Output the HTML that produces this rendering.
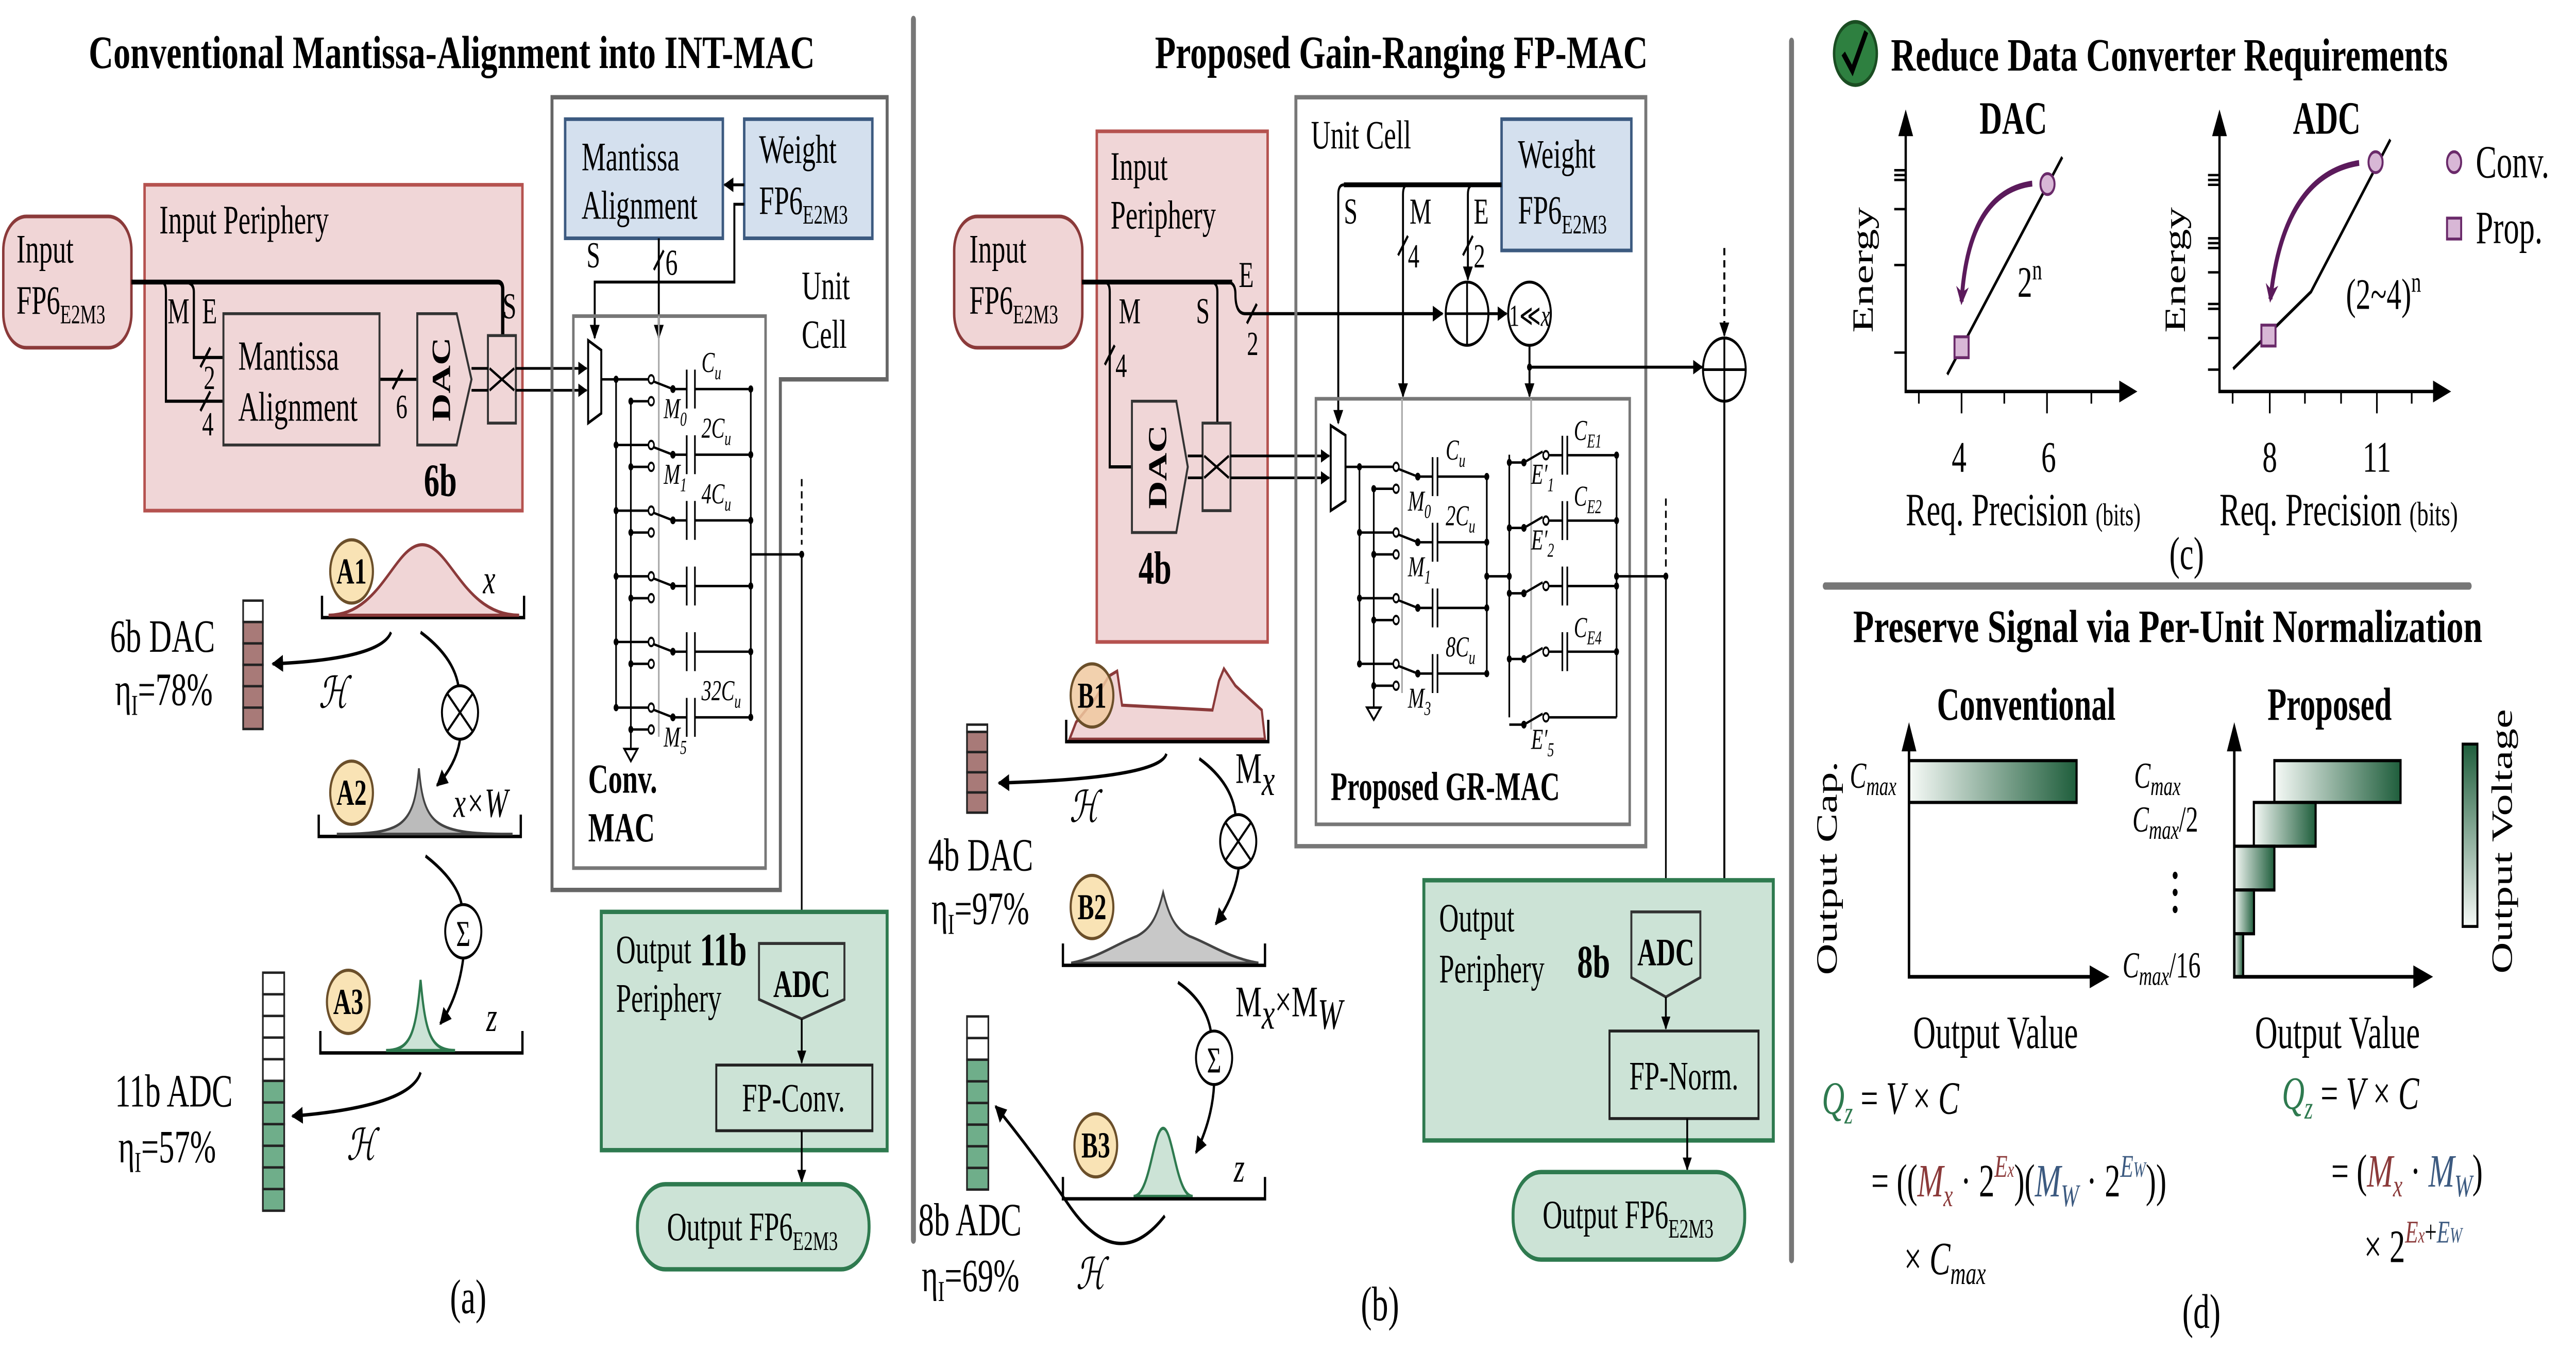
<!DOCTYPE html>
<html><head><meta charset="utf-8"><meta name="viewport" content="width=device-width,initial-scale=1"><style>
html,body{margin:0;padding:0;background:#fff;width:100vw;height:100vh;overflow:hidden;}
svg{display:block;width:100vw;height:100vh;position:absolute;left:0;top:0;}
text{font-family:"Liberation Serif","DejaVu Serif",serif;fill:#000;}
</style></head><body>
<svg xmlns="http://www.w3.org/2000/svg" xmlns:xlink="http://www.w3.org/1999/xlink" viewBox="0 0 1568 556" preserveAspectRatio="none">
<defs>
<marker id="ar" viewBox="0 0 10 10" refX="9" refY="5" markerWidth="5" markerHeight="5" orient="auto-start-reverse"><path d="M0,0 L10,5 L0,10 z" fill="#000"/></marker>
<marker id="ap" viewBox="0 0 10 10" refX="8" refY="5" markerWidth="3.2" markerHeight="3.2" orient="auto"><path d="M0,0 L10,5 L0,10 L3,5 z" fill="#5b1a5b"/></marker>
<linearGradient id="gh" x1="0" x2="1" y1="0" y2="0"><stop offset="0" stop-color="#f6faf7"/><stop offset="1" stop-color="#1f5e3c"/></linearGradient>
<linearGradient id="gv" x1="0" x2="0" y1="1" y2="0"><stop offset="0" stop-color="#f6faf7"/><stop offset="1" stop-color="#1f5e3c"/></linearGradient>
<g id="rowA">
<g stroke="#000" stroke-width="1" fill="none">
<line x1="375" y1="0" x2="394.5" y2="0"/>
<line x1="384" y1="9" x2="394.5" y2="9"/>
<line x1="409.6" y1="4" x2="397.5" y2="0.8"/>
<line x1="409.6" y1="4" x2="418" y2="4"/>
<line x1="418" y1="-4" x2="418" y2="12"/><line x1="423" y1="-4" x2="423" y2="12"/>
<line x1="423" y1="4" x2="457" y2="4"/>
</g>
<circle cx="375" cy="0" r="1.5"/><circle cx="384" cy="9" r="1.5"/><circle cx="409.6" cy="4" r="1.6"/><circle cx="457" cy="4" r="1.5"/>
<circle cx="396.4" cy="0" r="1.7" fill="#fff" stroke="#000" stroke-width="0.9"/>
<circle cx="396.4" cy="9" r="1.7" fill="#fff" stroke="#000" stroke-width="0.9"/>
</g>
<g id="rowB">
<g stroke="#000" stroke-width="1" fill="none">
<line x1="827.5" y1="0" x2="848" y2="0"/>
<line x1="836.2" y1="9" x2="848" y2="9"/>
<line x1="863" y1="4" x2="851" y2="0.8"/>
<line x1="863" y1="4" x2="872" y2="4"/>
<line x1="872" y1="-4" x2="872" y2="12"/><line x1="875" y1="-4" x2="875" y2="12"/>
<line x1="875" y1="4" x2="905" y2="4"/>
</g>
<circle cx="827.5" cy="0" r="1.5"/><circle cx="836.2" cy="9" r="1.5"/><circle cx="863" cy="4" r="1.6"/><circle cx="905" cy="4" r="1.5"/>
<circle cx="849.8" cy="0" r="1.7" fill="#fff" stroke="#000" stroke-width="0.9"/>
<circle cx="849.8" cy="9" r="1.7" fill="#fff" stroke="#000" stroke-width="0.9"/>
</g>
<g id="rowE">
<g stroke="#000" stroke-width="1" fill="none">
<line x1="918.7" y1="3" x2="927.6" y2="3"/>
<line x1="927.6" y1="3" x2="939" y2="-1.5"/>
<line x1="942.7" y1="0" x2="951" y2="0"/>
<line x1="951" y1="-8" x2="951" y2="8"/><line x1="954" y1="-8" x2="954" y2="8"/>
<line x1="954" y1="0" x2="984" y2="0"/>
</g>
<circle cx="918.7" cy="3" r="1.5"/><circle cx="927.6" cy="3" r="1.6"/><circle cx="984" cy="0" r="1.5"/>
<circle cx="941" cy="0" r="1.7" fill="#fff" stroke="#000" stroke-width="0.9"/>
</g>
</defs>

<line x1="556" y1="8" x2="556" y2="510" stroke="#777" stroke-width="3" stroke-linecap="round"/>
<line x1="1090.5" y1="17" x2="1090.5" y2="518" stroke="#777" stroke-width="3" stroke-linecap="round"/>
<line x1="1111" y1="241" x2="1503" y2="241" stroke="#777" stroke-width="3" stroke-linecap="round"/>

<!-- ================= PANEL A ================= -->
<text x="54" y="28" font-weight="bold" font-size="19" textLength="442" lengthAdjust="spacingAndGlyphs">Conventional Mantissa-Alignment into INT-MAC</text>

<rect x="2" y="89" width="78" height="54" rx="14" fill="#f0d5d6" stroke="#8b3a3a" stroke-width="1.5"/>
<text x="10" y="108" font-size="16.5">Input</text>
<text x="10" y="129" font-size="16.5">FP6<tspan font-size="11" dy="4">E2M3</tspan></text>

<rect x="88" y="76" width="230" height="134" fill="#f0d6d7" stroke="#b5524f" stroke-width="1.5"/>
<text x="97" y="96" font-size="16.5">Input Periphery</text>

<g fill="none" stroke="#000" stroke-width="1.3">
<path d="M80,116 L303,116 Q306,116 306,119 L306,138" stroke-width="2"/>
<path d="M98,116 Q101,116 101,120 L101,165 L136,165"/>
<path d="M112,116 Q118,116 118,120 L118,147 L136,147"/>
<line x1="122" y1="151" x2="128" y2="143"/>
<line x1="122" y1="169" x2="128" y2="161"/>
<line x1="231" y1="156" x2="254" y2="156"/>
<line x1="239" y1="160" x2="245" y2="152"/>
</g>
<text x="102" y="133" font-size="15">M</text>
<text x="123" y="133" font-size="15">E</text>
<text x="124" y="160" font-size="14">2</text>
<text x="123" y="179" font-size="14">4</text>
<text x="241" y="172" font-size="14">6</text>
<rect x="136" y="129" width="95" height="54" fill="none" stroke="#333" stroke-width="1.2"/>
<text x="145" y="152" font-size="17">Mantissa</text>
<text x="145" y="173" font-size="17">Alignment</text>
<path d="M254,129 L278,129 L287,156 L278,183 L254,183 Z" fill="none" stroke="#333" stroke-width="1.2"/>
<text x="0" y="0" font-size="16" font-weight="bold" text-anchor="middle" transform="translate(274,156) rotate(-90)">DAC</text>
<rect x="297" y="138" width="17" height="36" fill="none" stroke="#333" stroke-width="1.2"/>
<g stroke="#000" stroke-width="1.1" fill="none">
<line x1="287" y1="151.5" x2="297" y2="151.5"/><line x1="287" y1="160.5" x2="297" y2="160.5"/>
<line x1="298" y1="151.5" x2="313" y2="160.5"/><line x1="298" y1="160.5" x2="313" y2="151.5"/>
<line x1="314" y1="151.5" x2="357" y2="151.5" marker-end="url(#ar)"/>
<line x1="314" y1="160.5" x2="357" y2="160.5" marker-end="url(#ar)"/>
</g>
<text x="306" y="131" font-size="15">S</text>
<text x="258" y="204" font-size="19" font-weight="bold">6b</text>

<path d="M336,40 L540,40 L540,156 L475,156 L475,366 L336,366 Z" fill="none" stroke="#666" stroke-width="1.8"/>
<rect x="344" y="49" width="96" height="49" fill="#d4e0ee" stroke="#3c5a80" stroke-width="1.5"/>
<text x="354" y="70" font-size="16.5">Mantissa</text>
<text x="354" y="90" font-size="16.5">Alignment</text>
<rect x="453" y="49" width="78" height="49" fill="#d4e0ee" stroke="#3c5a80" stroke-width="1.5"/>
<text x="462" y="67" font-size="16.5">Weight</text>
<text x="462" y="88" font-size="16.5">FP6<tspan font-size="11" dy="4">E2M3</tspan></text>
<g stroke="#000" stroke-width="1.2" fill="none">
<line x1="453" y1="76" x2="441" y2="76" marker-end="url(#ar)"/>
<path d="M453,84 L447,84 L447,116 L362,116 L362,139" marker-end="url(#ar)"/>
<line x1="401" y1="98" x2="401" y2="139" marker-end="url(#ar)"/>
<line x1="398" y1="111" x2="404" y2="103"/>
</g>
<text x="357" y="110" font-size="15">S</text>
<text x="405" y="113" font-size="15">6</text>
<text x="488" y="123" font-size="16.5">Unit</text>
<text x="488" y="143" font-size="16.5">Cell</text>

<rect x="349" y="130" width="117" height="227" fill="none" stroke="#777" stroke-width="1.5"/>
<polygon points="358,140 366,144 366,170 358,174" fill="#fff" stroke="#000" stroke-width="1.2"/>
<text x="358" y="326" font-size="17" font-weight="bold">Conv.</text>
<text x="358" y="346" font-size="17" font-weight="bold">MAC</text>

<g stroke="#000" stroke-width="1" fill="none">
<line x1="401" y1="130" x2="401" y2="303" stroke="#aaa"/>
<line x1="366" y1="156" x2="394.5" y2="156"/>
<line x1="375" y1="156" x2="375" y2="291"/>
<line x1="384" y1="165" x2="384" y2="308"/>
<polygon points="380,308 388,308 384,313"/>
<line x1="457" y1="160" x2="457" y2="295"/>
<line x1="457" y1="228" x2="488" y2="228"/>
<line x1="488" y1="197" x2="488" y2="224" stroke-dasharray="3,2"/>
<line x1="488" y1="228" x2="488" y2="387" marker-end="url(#ar)"/>
</g>
<circle cx="488" cy="228" r="1.5"/>
<use xlink:href="#rowA" href="#rowA" transform="translate(0,156)"/>
<use xlink:href="#rowA" href="#rowA" transform="translate(0,183)"/>
<use xlink:href="#rowA" href="#rowA" transform="translate(0,210)"/>
<use xlink:href="#rowA" href="#rowA" transform="translate(0,237)"/>
<use xlink:href="#rowA" href="#rowA" transform="translate(0,264)"/>
<use xlink:href="#rowA" href="#rowA" transform="translate(0,291)"/>
<g font-size="12" font-style="italic">
<text x="427" y="153">C<tspan font-size="8" dy="3">u</tspan></text>
<text x="427" y="180">2C<tspan font-size="8" dy="3">u</tspan></text>
<text x="427" y="207">4C<tspan font-size="8" dy="3">u</tspan></text>
<text x="427" y="288">32C<tspan font-size="8" dy="3">u</tspan></text>
<text x="404" y="172">M<tspan font-size="8" dy="3">0</tspan></text>
<text x="404" y="199">M<tspan font-size="8" dy="3">1</tspan></text>
<text x="404" y="307">M<tspan font-size="8" dy="3">5</tspan></text>
</g>

<rect x="366" y="375" width="174" height="98" fill="#cce3d6" stroke="#2e7a4f" stroke-width="1.8"/>
<text x="375" y="396" font-size="16.5">Output</text>
<text x="375" y="416" font-size="16.5">Periphery</text>
<text x="426" y="397" font-size="19" font-weight="bold">11b</text>
<path d="M462,388 L514,388 L514,411 L488,419 L462,411 Z" fill="none" stroke="#333" stroke-width="1.2"/>
<text x="488" y="410" font-size="16" font-weight="bold" text-anchor="middle">ADC</text>
<line x1="488" y1="419" x2="488" y2="437" stroke="#000" stroke-width="1.1" marker-end="url(#ar)"/>
<rect x="436" y="438" width="95" height="27" fill="none" stroke="#222" stroke-width="1.2"/>
<text x="483" y="457" font-size="16.5" text-anchor="middle">FP-Conv.</text>
<line x1="488" y1="465" x2="488" y2="486" stroke="#000" stroke-width="1.1" marker-end="url(#ar)"/>
<rect x="388" y="487" width="141" height="35" rx="17" fill="#cce3d6" stroke="#2e7a4f" stroke-width="1.8"/>
<text x="458" y="510" font-size="16.5" text-anchor="middle">Output FP6<tspan font-size="11" dy="4">E2M3</tspan></text>
<text x="285" y="540" font-size="20" text-anchor="middle">(a)</text>

<g fill="none" stroke="#000" stroke-width="1.4">
<path d="M196,245 L196,254 L319,254 L319,245"/>
<path d="M194,335 L194,344 L317,344 L317,335"/>
<path d="M195,424 L195,433 L318,433 L318,424"/>
</g>
<path d="M200,253 C232,253 240,224 257,224 C274,224 282,253 316,253 Z" fill="#f0d5d6" stroke="#8b3a3a" stroke-width="1.3"/>
<path d="M205,343 C245,343 252,340 255,316 C258,340 265,343 312,343 Z" fill="#bbb" stroke="#444" stroke-width="1.1"/>
<path d="M235,432 C250,432 253,425 256,403 C259,425 262,432 277,432 Z" fill="#cce3d6" stroke="#2e7a4f" stroke-width="1.3"/>
<g font-size="15" font-weight="bold" text-anchor="middle">
<circle cx="214" cy="235" r="13" fill="#f9e3b5" stroke="#6b4f2a" stroke-width="1.3"/><text x="214" y="240">A1</text>
<circle cx="214" cy="326" r="13" fill="#f9e3b5" stroke="#6b4f2a" stroke-width="1.3"/><text x="214" y="331">A2</text>
<circle cx="212" cy="412" r="13" fill="#f9e3b5" stroke="#6b4f2a" stroke-width="1.3"/><text x="212" y="417">A3</text>
</g>
<text x="294" y="244" font-size="17" font-style="italic">x</text>
<text x="276" y="336" font-size="17" font-style="italic">x×W</text>
<text x="296" y="424" font-size="17" font-style="italic">z</text>
<g fill="none" stroke="#000" stroke-width="1.4">
<path d="M238,260 Q232,271 166,273" marker-end="url(#ar)"/>
<path d="M256,260 Q276,270 279,282"/>
<path d="M280,304 Q278,314 266,323" marker-end="url(#ar)"/>
<path d="M259,352 Q278,362 281,372"/>
<path d="M282,394 Q279,410 268,421" marker-end="url(#ar)"/>
<path d="M256,441 Q250,455 178,459" marker-end="url(#ar)"/>
</g>
<circle cx="280" cy="293" r="11" fill="#fff" stroke="#000" stroke-width="1.2"/>
<path d="M272.5,285.5 L287.5,300.5 M287.5,285.5 L272.5,300.5" stroke="#000" stroke-width="1.1"/>
<circle cx="282" cy="383" r="11" fill="#fff" stroke="#000" stroke-width="1.2"/>
<text x="282" y="389" font-size="15" text-anchor="middle">Σ</text>
<text x="194" y="291" font-size="18" font-style="italic">ℋ</text>
<text x="211" y="477" font-size="18" font-style="italic">ℋ</text>
<text x="67" y="268" font-size="19">6b DAC</text>
<text x="70" y="290" font-size="19">η<tspan font-size="12" dy="4">I</tspan><tspan dy="-4">=78%</tspan></text>
<g stroke="#222" stroke-width="1">
<rect x="148" y="247" width="12" height="8.8" fill="#fff"/>
<rect x="148" y="255.8" width="12" height="8.8" fill="#a87a78"/>
<rect x="148" y="264.6" width="12" height="8.8" fill="#a87a78"/>
<rect x="148" y="273.4" width="12" height="8.8" fill="#a87a78"/>
<rect x="148" y="282.2" width="12" height="8.8" fill="#a87a78"/>
<rect x="148" y="291" width="12" height="8.8" fill="#a87a78"/>
</g>
<text x="70" y="455" font-size="19">11b ADC</text>
<text x="72" y="478" font-size="19">η<tspan font-size="12" dy="4">I</tspan><tspan dy="-4">=57%</tspan></text>
<g stroke="#222" stroke-width="1" fill="#fff">
<rect x="160" y="400" width="13" height="8.9"/><rect x="160" y="408.9" width="13" height="8.9"/>
<rect x="160" y="417.8" width="13" height="8.9"/><rect x="160" y="426.7" width="13" height="8.9"/>
<rect x="160" y="435.6" width="13" height="8.9"/>
<g fill="#6fae8a">
<rect x="160" y="444.5" width="13" height="8.9"/><rect x="160" y="453.4" width="13" height="8.9"/>
<rect x="160" y="462.3" width="13" height="8.9"/><rect x="160" y="471.2" width="13" height="8.9"/>
<rect x="160" y="480.1" width="13" height="8.9"/><rect x="160" y="489" width="13" height="8.9"/>
</g></g>

<!-- ================= PANEL B ================= -->
<text x="703" y="28" font-weight="bold" font-size="19" textLength="300" lengthAdjust="spacingAndGlyphs">Proposed Gain-Ranging FP-MAC</text>
<rect x="580.8" y="89" width="78" height="54" rx="14" fill="#f0d5d6" stroke="#8b3a3a" stroke-width="1.5"/>
<text x="590" y="108" font-size="16.5">Input</text>
<text x="590" y="129" font-size="16.5">FP6<tspan font-size="11" dy="4">E2M3</tspan></text>
<rect x="667.6" y="54" width="104" height="210" fill="#f0d6d7" stroke="#b5524f" stroke-width="1.5"/>
<text x="676" y="74" font-size="16.5">Input</text>
<text x="676" y="94" font-size="16.5">Periphery</text>
<g fill="none" stroke="#000" stroke-width="1.3">
<path d="M658.6,116 L750,116" stroke-width="2"/>
<path d="M672,116 Q675.5,116 675.5,120 L675.5,192 L689,192"/>
<path d="M737,116 Q741,116 741,120 L741,174"/>
<path d="M747,116 Q752,116 752,121 Q752,129 758,129 L878,129" marker-end="url(#ar)"/>
<line x1="672.5" y1="150" x2="678.5" y2="142"/>
<line x1="759" y1="133" x2="765" y2="125"/>
</g>
<text x="681" y="133" font-size="15">M</text>
<text x="679" y="155" font-size="14">4</text>
<text x="728" y="133" font-size="15">S</text>
<text x="754" y="118" font-size="15">E</text>
<text x="759" y="146" font-size="14">2</text>
<path d="M689,165 L716,165 L723,192 L716,219 L689,219 Z" fill="none" stroke="#333" stroke-width="1.2"/>
<text x="0" y="0" font-size="16" font-weight="bold" text-anchor="middle" transform="translate(710,192) rotate(-90)">DAC</text>
<text x="703" y="240" font-size="19" font-weight="bold" text-anchor="middle">4b</text>
<rect x="732" y="174" width="17" height="36" fill="none" stroke="#333" stroke-width="1.2"/>
<g stroke="#000" stroke-width="1.1" fill="none">
<line x1="723" y1="187.5" x2="732" y2="187.5"/><line x1="723" y1="196.5" x2="732" y2="196.5"/>
<line x1="733" y1="187.5" x2="748" y2="196.5"/><line x1="733" y1="196.5" x2="748" y2="187.5"/>
<line x1="749" y1="187.5" x2="809" y2="187.5" marker-end="url(#ar)"/>
<line x1="749" y1="196.5" x2="809" y2="196.5" marker-end="url(#ar)"/>
</g>

<rect x="788.8" y="40" width="213" height="308" fill="none" stroke="#777" stroke-width="1.8"/>
<text x="798" y="61" font-size="16.5">Unit Cell</text>
<rect x="914" y="49" width="79" height="54" fill="#d4e0ee" stroke="#3c5a80" stroke-width="1.5"/>
<text x="924" y="69" font-size="16.5">Weight</text>
<text x="924" y="92" font-size="16.5">FP6<tspan font-size="11" dy="4">E2M3</tspan></text>
<g fill="none" stroke="#000" stroke-width="1.2">
<path d="M914,76 L818,76" stroke-width="2"/>
<path d="M818,76 Q814.6,76 814.6,80 L814.6,174" marker-end="url(#ar)"/>
<path d="M857,76 Q854,76 854,80 L854,163" marker-end="url(#ar)"/>
<path d="M897,76 Q893.5,76 893.5,80 L893.5,115" marker-end="url(#ar)"/>
<line x1="851" y1="105" x2="857" y2="97"/>
<line x1="890.5" y1="105" x2="896.5" y2="97"/>
<line x1="906" y1="129" x2="917" y2="129" marker-end="url(#ar)"/>
<line x1="931" y1="142" x2="931" y2="163" marker-end="url(#ar)"/>
<line x1="931" y1="151" x2="1036" y2="151" marker-end="url(#ar)"/>
<line x1="1049.6" y1="102" x2="1049.6" y2="138" stroke-dasharray="3,2" marker-end="url(#ar)"/>
<line x1="1049.6" y1="165" x2="1049.6" y2="423" marker-end="url(#ar)"/>
</g>
<circle cx="931" cy="151" r="1.5"/>
<text x="818" y="92" font-size="15">S</text>
<text x="858" y="92" font-size="15">M</text>
<text x="897" y="92" font-size="15">E</text>
<text x="857" y="110" font-size="14">4</text>
<text x="897" y="110" font-size="14">2</text>
<circle cx="893" cy="129" r="13" fill="#fff" stroke="#000" stroke-width="1.2"/>
<path d="M880,129 L906,129 M893,116 L893,142" stroke="#000" stroke-width="1.1"/>
<circle cx="931" cy="129" r="13" fill="#fff" stroke="#000" stroke-width="1.2"/>
<text x="931" y="134" font-size="12.5" text-anchor="middle">1≪<tspan font-style="italic">x</tspan></text>
<circle cx="1049.6" cy="152" r="13" fill="#fff" stroke="#000" stroke-width="1.2"/>
<path d="M1036.6,152 L1062.6,152 M1049.6,139 L1049.6,165" stroke="#000" stroke-width="1.1"/>

<rect x="801" y="164" width="191" height="175" fill="none" stroke="#777" stroke-width="1.5"/>
<text x="810" y="329" font-size="16.5" font-weight="bold">Proposed GR-MAC</text>
<polygon points="810,175 819,179 819,206 810,210" fill="#fff" stroke="#000" stroke-width="1.2"/>
<g stroke="#000" stroke-width="1" fill="none">
<line x1="853.4" y1="164" x2="853.4" y2="285" stroke="#aaa"/>
<line x1="932" y1="164" x2="932" y2="300" stroke="#aaa"/>
<line x1="819" y1="192" x2="848" y2="192"/>
<line x1="827.5" y1="192" x2="827.5" y2="273"/>
<line x1="836.2" y1="201" x2="836.2" y2="291"/>
<polygon points="832,291 840.4,291 836.2,296"/>
<line x1="905" y1="196" x2="905" y2="277"/>
<line x1="905" y1="237" x2="918.7" y2="237"/>
<line x1="918.7" y1="187" x2="918.7" y2="295"/>
<line x1="984" y1="187" x2="984" y2="295"/>
<line x1="984" y1="237" x2="1014" y2="237"/>
<line x1="1014" y1="205" x2="1014" y2="233" stroke-dasharray="3,2"/>
<line x1="1014" y1="237" x2="1014" y2="374" marker-end="url(#ar)"/>
</g>
<circle cx="1014" cy="237" r="1.5"/><circle cx="905" cy="237" r="1.5"/><circle cx="918.7" cy="237" r="1.5"/><circle cx="984" cy="237" r="1.5"/>
<use xlink:href="#rowB" href="#rowB" transform="translate(0,192)"/>
<use xlink:href="#rowB" href="#rowB" transform="translate(0,219)"/>
<use xlink:href="#rowB" href="#rowB" transform="translate(0,246)"/>
<use xlink:href="#rowB" href="#rowB" transform="translate(0,273)"/>
<use xlink:href="#rowE" href="#rowE" transform="translate(0,187.2)"/>
<use xlink:href="#rowE" href="#rowE" transform="translate(0,214.1)"/>
<use xlink:href="#rowE" href="#rowE" transform="translate(0,241)"/>
<use xlink:href="#rowE" href="#rowE" transform="translate(0,268)"/>
<g stroke="#000" stroke-width="1" fill="none">
<line x1="918.7" y1="298" x2="927.6" y2="298"/>
<line x1="927.6" y1="298" x2="939" y2="293.5"/>
<line x1="942.7" y1="295" x2="984" y2="295"/>
</g>
<circle cx="927.6" cy="298" r="1.6"/>
<circle cx="941" cy="295" r="1.7" fill="#fff" stroke="#000" stroke-width="0.9"/>
<g font-size="12" font-style="italic">
<text x="880" y="189">C<tspan font-size="8" dy="3">u</tspan></text>
<text x="880" y="216">2C<tspan font-size="8" dy="3">u</tspan></text>
<text x="880" y="270">8C<tspan font-size="8" dy="3">u</tspan></text>
<text x="857" y="210">M<tspan font-size="8" dy="3">0</tspan></text>
<text x="857" y="237">M<tspan font-size="8" dy="3">1</tspan></text>
<text x="857" y="291">M<tspan font-size="8" dy="3">3</tspan></text>
<text x="958" y="181">C<tspan font-size="8" dy="3">E1</tspan></text>
<text x="958" y="208">C<tspan font-size="8" dy="3">E2</tspan></text>
<text x="958" y="262">C<tspan font-size="8" dy="3">E4</tspan></text>
<text x="932" y="199">E′<tspan font-size="8" dy="3">1</tspan></text>
<text x="932" y="226">E′<tspan font-size="8" dy="3">2</tspan></text>
<text x="932" y="308">E′<tspan font-size="8" dy="3">5</tspan></text>
</g>

<rect x="866.7" y="362" width="212.7" height="107" fill="#cce3d6" stroke="#2e7a4f" stroke-width="1.8"/>
<text x="876" y="383" font-size="16.5">Output</text>
<text x="876" y="404" font-size="16.5">Periphery</text>
<text x="960" y="402" font-size="19" font-weight="bold">8b</text>
<path d="M993,375 L1035,375 L1035,402 L1014,410 L993,402 Z" fill="none" stroke="#333" stroke-width="1.2"/>
<text x="1014" y="397" font-size="16" font-weight="bold" text-anchor="middle">ADC</text>
<line x1="1014" y1="410" x2="1014" y2="423" stroke="#000" stroke-width="1.1" marker-end="url(#ar)"/>
<rect x="979.7" y="424" width="90.7" height="36" fill="none" stroke="#222" stroke-width="1.2"/>
<text x="1025" y="448" font-size="16.5" text-anchor="middle">FP-Norm.</text>
<line x1="1027" y1="460" x2="1027" y2="481" stroke="#000" stroke-width="1.1" marker-end="url(#ar)"/>
<rect x="921" y="482" width="141" height="36" rx="17" fill="#cce3d6" stroke="#2e7a4f" stroke-width="1.8"/>
<text x="991" y="505" font-size="16.5" text-anchor="middle">Output FP6<tspan font-size="11" dy="4">E2M3</tspan></text>
<text x="840" y="543" font-size="20" text-anchor="middle">(b)</text>

<path d="M651,304 L655,297 L667,287 L675,278 L680,276 L683,290 L738,292 L742,280 L745,275 L752,282 L768,292 L770,304 Z" fill="#f0d5d6" stroke="#8b3a3a" stroke-width="1.3"/>
<path d="M652,396 C668,394 680,388 692,385 C700,382 704,378 708,367 C712,378 716,382 724,385 C736,388 748,394 766,396 Z" fill="#c8c8c8" stroke="#444" stroke-width="1.1"/>
<path d="M690,492 C700,492 702,464 708,464 C714,464 716,492 726,492 Z" fill="#cce3d6" stroke="#2e7a4f" stroke-width="1.3"/>
<g fill="none" stroke="#000" stroke-width="1.4">
<path d="M649,296 L649,305 L772,305 L772,296"/>
<path d="M647,388 L647,397 L770,397 L770,388"/>
<path d="M647,484 L647,493 L770,493 L770,484"/>
<path d="M710,310 Q706,320 608,322" marker-end="url(#ar)"/>
<path d="M730,312 Q750,322 752,335"/>
<path d="M754,357 Q752,368 740,380" marker-end="url(#ar)"/>
<path d="M717,404 Q734,412 737,424"/>
<path d="M739,446 Q738,460 728,474" marker-end="url(#ar)"/>
<path d="M709,500 Q680,525 650,495 Q630,475 606,455" marker-end="url(#ar)"/>
</g>
<circle cx="753.7" cy="346" r="11" fill="#fff" stroke="#000" stroke-width="1.2"/>
<path d="M746.2,338.5 L761.2,353.5 M761.2,338.5 L746.2,353.5" stroke="#000" stroke-width="1.1"/>
<circle cx="739" cy="435" r="11" fill="#fff" stroke="#000" stroke-width="1.2"/>
<text x="739" y="441" font-size="15" text-anchor="middle">Σ</text>
<g font-size="15" font-weight="bold" text-anchor="middle">
<circle cx="664.7" cy="286" r="13" fill="#f0c9a0" fill-opacity="0.85" stroke="#6b4f2a" stroke-width="1.3"/><text x="664.7" y="291">B1</text>
<circle cx="664.7" cy="373" r="13" fill="#f9e3b5" stroke="#6b4f2a" stroke-width="1.3"/><text x="664.7" y="378">B2</text>
<circle cx="667" cy="471" r="13" fill="#f9e3b5" stroke="#6b4f2a" stroke-width="1.3"/><text x="667" y="476">B3</text>
</g>
<text x="752" y="322" font-size="18">M<tspan font-style="italic" dy="5">x</tspan></text>
<text x="752" y="418" font-size="18">M<tspan font-style="italic" dy="5">x</tspan><tspan dy="-5">×M</tspan><tspan font-style="italic" dy="5">W</tspan></text>
<text x="751" y="486" font-size="17" font-style="italic">z</text>
<text x="651" y="338" font-size="18" font-style="italic">ℋ</text>
<text x="655" y="530" font-size="18" font-style="italic">ℋ</text>
<text x="565" y="358" font-size="19">4b DAC</text>
<text x="567" y="380" font-size="19">η<tspan font-size="12" dy="4">I</tspan><tspan dy="-4">=97%</tspan></text>
<g stroke="#222" stroke-width="1">
<rect x="588.6" y="298" width="12.4" height="3" fill="#fff"/>
<rect x="588.6" y="301" width="12.4" height="8.3" fill="#a87a78"/>
<rect x="588.6" y="309.3" width="12.4" height="8.3" fill="#a87a78"/>
<rect x="588.6" y="317.6" width="12.4" height="8.3" fill="#a87a78"/>
<rect x="588.6" y="325.9" width="12.4" height="8.3" fill="#a87a78"/>
</g>
<text x="559" y="508" font-size="19">8b ADC</text>
<text x="561" y="531" font-size="19">η<tspan font-size="12" dy="4">I</tspan><tspan dy="-4">=69%</tspan></text>
<g stroke="#222" stroke-width="1">
<rect x="588.6" y="418" width="13" height="8.9" fill="#fff"/>
<rect x="588.6" y="426.9" width="13" height="8.9" fill="#fff"/>
<rect x="588.6" y="435.8" width="13" height="8.9" fill="#6fae8a"/>
<rect x="588.6" y="444.7" width="13" height="8.9" fill="#6fae8a"/>
<rect x="588.6" y="453.6" width="13" height="8.9" fill="#6fae8a"/>
<rect x="588.6" y="462.5" width="13" height="8.9" fill="#6fae8a"/>
<rect x="588.6" y="471.4" width="13" height="8.9" fill="#6fae8a"/>
<rect x="588.6" y="480.3" width="13" height="8.9" fill="#6fae8a"/>
</g>

<!-- ================= PANEL C ================= -->
<circle cx="1129.4" cy="22" r="13" fill="#2e8040" stroke="#1a4d22" stroke-width="1.5"/>
<path d="M1122,22 L1127.5,29 L1136,13" fill="none" stroke="#000" stroke-width="2.6"/>
<text x="1151" y="29" font-weight="bold" font-size="19" textLength="339" lengthAdjust="spacingAndGlyphs">Reduce Data Converter Requirements</text>

<g fill="none" stroke="#000" stroke-width="1.4">
<path d="M1160,50 L1160,161 L1293,161"/>
<path d="M1351,50 L1351,161 L1484,161"/>
</g>
<path d="M1155.5,56 L1160,45 L1164.5,56 Z M1290,156.5 L1301,161 L1290,165.5 Z M1346.5,56 L1351,45 L1355.5,56 Z M1481,156.5 L1492,161 L1481,165.5 Z"/>
<g stroke="#000" stroke-width="1">
<path d="M1153,70 L1160,70 M1153,72 L1160,72 M1153,74 L1160,74 M1153,86 L1160,86 M1153,109 L1160,109 M1153,145 L1160,145"/>
<path d="M1168,161 L1168,166 M1194,161 L1194,170 M1220,161 L1220,166 M1246,161 L1246,170 M1273,161 L1273,166"/>
<path d="M1344,72 L1351,72 M1344,74 L1351,74 M1344,76 L1351,76 M1344,98 L1351,98 M1344,100 L1351,100 M1344,102 L1351,102 M1344,112 L1351,112 M1344,125 L1351,125 M1344,127 L1351,127 M1344,139 L1351,139 M1344,152 L1351,152"/>
<path d="M1359,161 L1359,166 M1381.6,161 L1381.6,170 M1403,161 L1403,166 M1425,161 L1425,166 M1446.8,161 L1446.8,170 M1468,161 L1468,166"/>
</g>
<text x="1225.5" y="55" font-size="19" font-weight="bold" text-anchor="middle">DAC</text>
<text x="1416.3" y="55" font-size="19" font-weight="bold" text-anchor="middle">ADC</text>
<text x="0" y="0" font-size="18" text-anchor="middle" transform="translate(1140,111) rotate(-90)">Energy</text>
<text x="0" y="0" font-size="18" text-anchor="middle" transform="translate(1330,111) rotate(-90)">Energy</text>
<line x1="1185.3" y1="154" x2="1255.3" y2="64.6" stroke="#000" stroke-width="1.4"/>
<polyline points="1359.3,151.7 1406.7,120 1455,57.4" fill="none" stroke="#000" stroke-width="1.4"/>
<path d="M1237,75.5 Q1198,79 1194,124" fill="none" stroke="#5b1a5b" stroke-width="2.4" marker-end="url(#ap)"/>
<path d="M1436,67 Q1390,72 1382,123" fill="none" stroke="#5b1a5b" stroke-width="2.4" marker-end="url(#ap)"/>
<circle cx="1246.3" cy="75.7" r="4.3" fill="#d8b7d6" stroke="#6a2a6a" stroke-width="1.2"/>
<rect x="1189.7" y="138.5" width="8.6" height="8.6" fill="#d8b7d6" stroke="#6a2a6a" stroke-width="1.2"/>
<circle cx="1446" cy="66.7" r="4.3" fill="#d8b7d6" stroke="#6a2a6a" stroke-width="1.2"/>
<rect x="1376.5" y="133.7" width="8.6" height="8.6" fill="#d8b7d6" stroke="#6a2a6a" stroke-width="1.2"/>
<text x="1228" y="122" font-size="18">2<tspan font-size="12" dy="-7">n</tspan></text>
<text x="1428" y="127" font-size="18">(2~4)<tspan font-size="12" dy="-7">n</tspan></text>
<text x="1192.5" y="194" font-size="18" text-anchor="middle">4</text>
<text x="1247" y="194" font-size="18" text-anchor="middle">6</text>
<text x="1381.6" y="194" font-size="18" text-anchor="middle">8</text>
<text x="1446.8" y="194" font-size="18" text-anchor="middle">11</text>
<text x="1160" y="216" font-size="19">Req. Precision <tspan font-size="13">(bits)</tspan></text>
<text x="1351" y="216" font-size="19">Req. Precision <tspan font-size="14">(bits)</tspan></text>
<text x="1331" y="234" font-size="19" text-anchor="middle">(c)</text>
<circle cx="1493.8" cy="66.7" r="4.3" fill="#d8b7d6" stroke="#6a2a6a" stroke-width="1.2"/>
<text x="1507" y="73" font-size="19">Conv.</text>
<rect x="1489.5" y="89.7" width="8.6" height="8.6" fill="#d8b7d6" stroke="#6a2a6a" stroke-width="1.2"/>
<text x="1507" y="100" font-size="19">Prop.</text>

<!-- ================= PANEL D ================= -->
<text x="1128" y="264" font-weight="bold" font-size="19" textLength="383" lengthAdjust="spacingAndGlyphs">Preserve Signal via Per-Unit Normalization</text>
<text x="1233.4" y="296" font-weight="bold" font-size="19" text-anchor="middle">Conventional</text>
<text x="1418" y="296" font-weight="bold" font-size="19" text-anchor="middle">Proposed</text>
<rect x="1162" y="312.8" width="102" height="17.2" fill="url(#gh)" stroke="#000" stroke-width="1.3"/>
<rect x="1384.4" y="312.8" width="76.8" height="17.2" fill="url(#gh)" stroke="#000" stroke-width="1.3"/>
<rect x="1371.9" y="330" width="37.6" height="18" fill="url(#gh)" stroke="#000" stroke-width="1.3"/>
<rect x="1360" y="348" width="24.4" height="18" fill="url(#gh)" stroke="#000" stroke-width="1.3"/>
<rect x="1360" y="366" width="12" height="18" fill="url(#gh)" stroke="#000" stroke-width="1.3"/>
<rect x="1360" y="384" width="5.4" height="17.7" fill="url(#gh)" stroke="#000" stroke-width="1.3"/>
<g fill="none" stroke="#000" stroke-width="1.5">
<path d="M1162,302 L1162,401.7 L1275,401.7"/>
<path d="M1360,302 L1360,401.7 L1472,401.7"/>
</g>
<path d="M1157.5,309 L1162,297 L1166.5,309 Z M1272,397 L1284,401.7 L1272,406.4 Z M1355.5,309 L1360,297 L1364.5,309 Z M1469,397 L1481,401.7 L1469,406.4 Z"/>
<rect x="1499" y="306" width="9" height="75" fill="url(#gv)" stroke="#000" stroke-width="1.2"/>
<text x="0" y="0" font-size="18" text-anchor="middle" transform="translate(1118,357) rotate(-90)">Output Cap.</text>
<text x="0" y="0" font-size="18" text-anchor="middle" transform="translate(1529,346) rotate(-90)">Output Voltage</text>
<text x="1214.7" y="431" font-size="19" text-anchor="middle">Output Value</text>
<text x="1422.8" y="431" font-size="19" text-anchor="middle">Output Value</text>
<g font-size="15" font-style="italic">
<text x="1126" y="324">C<tspan font-size="11" dy="3">max</tspan></text>
<text x="1299" y="324">C<tspan font-size="11" dy="3">max</tspan></text>
<text x="1298" y="342">C<tspan font-size="11" dy="3">max</tspan><tspan font-style="normal" dy="-3">/2</tspan></text>
<text x="1292" y="402">C<tspan font-size="11" dy="3">max</tspan><tspan font-style="normal" dy="-3">/16</tspan></text>
</g>
<circle cx="1324" cy="360" r="1.5"/><circle cx="1324" cy="367" r="1.5"/><circle cx="1324" cy="374" r="1.5"/>

<g font-size="19" font-style="italic">
<text x="1109" y="458"><tspan fill="#2e7a4f">Q</tspan><tspan fill="#2e7a4f" font-size="13" dy="4">z</tspan><tspan font-style="normal" dy="-4"> = </tspan>V<tspan font-style="normal"> × </tspan>C</text>
<text x="1139" y="492"><tspan font-style="normal">= ((</tspan><tspan fill="#8b3a3a">M</tspan><tspan fill="#8b3a3a" font-size="13" dy="4">x</tspan><tspan font-style="normal" dy="-4"> · 2</tspan><tspan fill="#8b3a3a" font-size="13" dy="-8">E<tspan font-size="9">x</tspan></tspan><tspan font-style="normal" dy="8">)(</tspan><tspan fill="#3c5a80">M</tspan><tspan fill="#3c5a80" font-size="13" dy="4">W</tspan><tspan font-style="normal" dy="-4"> · 2</tspan><tspan fill="#3c5a80" font-size="13" dy="-8">E<tspan font-size="9">W</tspan></tspan><tspan font-style="normal" dy="8">))</tspan></text>
<text x="1159" y="524"><tspan font-style="normal">× </tspan>C<tspan font-size="13" dy="4">max</tspan></text>
<text x="1389" y="456"><tspan fill="#2e7a4f">Q</tspan><tspan fill="#2e7a4f" font-size="13" dy="4">z</tspan><tspan font-style="normal" dy="-4"> = </tspan>V<tspan font-style="normal"> × </tspan>C</text>
<text x="1419" y="488"><tspan font-style="normal">= (</tspan><tspan fill="#8b3a3a">M</tspan><tspan fill="#8b3a3a" font-size="13" dy="4">x</tspan><tspan font-style="normal" dy="-4"> · </tspan><tspan fill="#3c5a80">M</tspan><tspan fill="#3c5a80" font-size="13" dy="4">W</tspan><tspan font-style="normal" dy="-4">)</tspan></text>
<text x="1439" y="519"><tspan font-style="normal">× 2</tspan><tspan font-size="13" dy="-8"><tspan fill="#8b3a3a">E<tspan font-size="9">x</tspan></tspan><tspan font-style="normal">+</tspan><tspan fill="#3c5a80">E<tspan font-size="9">W</tspan></tspan></tspan></text>
</g>
<text x="1340" y="546" font-size="20" text-anchor="middle">(d)</text>
</svg>
</body></html>
